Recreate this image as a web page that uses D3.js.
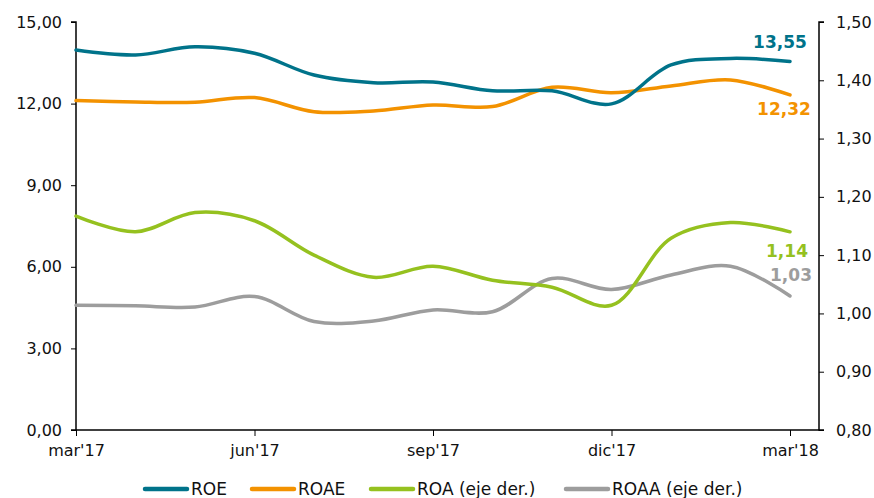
<!DOCTYPE html>
<html>
<head>
<meta charset="utf-8">
<script src="https://cdn.jsdelivr.net/npm/d3@7"></script>
<style>
  body { margin: 0; background: #fff; }
  svg text { font-family: "DejaVu Sans", Verdana, sans-serif; }
</style>
</head>
<body>
<svg id="chart" width="874" height="498"></svg>
<script>
// monthly points mar'17 .. mar'18
const months = ["mar'17", "abr'17", "may'17", "jun'17", "jul'17", "ago'17", "sep'17",
  "oct'17", "nov'17", "dic'17", "ene'18", "feb'18", "mar'18"];
const tickMonths = ["mar'17", "jun'17", "sep'17", "dic'17", "mar'18"];

const roe  = [13.97, 13.79, 14.09, 13.85, 13.05, 12.77, 12.79, 12.47, 12.47, 11.99, 13.42, 13.66, 13.55];
const roae = [12.11, 12.06, 12.05, 12.22, 11.70, 11.73, 11.95, 11.89, 12.60, 12.40, 12.65, 12.87, 12.32];
const roa  = [1.167, 1.140, 1.173, 1.159, 1.100, 1.062, 1.081, 1.057, 1.045, 1.014, 1.129, 1.156, 1.14];
const roaa = [1.014, 1.013, 1.011, 1.029, 0.986, 0.987, 1.006, 1.003, 1.060, 1.041, 1.066, 1.081, 1.03];

const leftTicks = [0, 3, 6, 9, 12, 15];
const rightTicks = [0.8, 0.9, 1.0, 1.1, 1.2, 1.3, 1.4, 1.5];

const series = [
  { name: "ROE", values: roe, axis: "left", color: "#00738A", label: "13,55", lx: 780, ly: 48 },
  { name: "ROAE", values: roae, axis: "left", color: "#F39200", label: "12,32", lx: 784, ly: 115 },
  { name: "ROA (eje der.)", values: roa, axis: "right", color: "#95C11F", label: "1,14", lx: 787, ly: 257 },
  { name: "ROAA (eje der.)", values: roaa, axis: "right", color: "#9D9D9D", label: "1,03", lx: 791, ly: 281 }
];

const fmt = v => d3.format(".2f")(v).replace(".", ",");

const svg = d3.select("#chart");
const plotLeft = 76, plotRight = 819, plotTop = 22, plotBottom = 430;

const x = d3.scaleLinear().domain([0, months.length - 1]).range([plotLeft, 790]);
const yL = d3.scaleLinear().domain([0, 15]).range([plotBottom, plotTop]);
const yR = d3.scaleLinear().domain([0.8, 1.5]).range([plotBottom, plotTop]);

// axes
const axL = svg.append("g").attr("transform", `translate(${plotLeft},0)`)
  .call(d3.axisLeft(yL).tickValues(leftTicks).tickFormat(fmt).tickSize(5).tickPadding(9));
const axR = svg.append("g").attr("transform", `translate(${plotRight},0)`)
  .call(d3.axisRight(yR).tickValues(rightTicks).tickFormat(fmt).tickSize(5).tickPadding(12));

const axB = svg.append("g").attr("transform", `translate(0,${plotBottom})`)
  .call(d3.axisBottom(x)
    .tickValues(tickMonths.map(m => months.indexOf(m)))
    .tickFormat(i => months[i])
    .tickSize(6).tickPadding(9));
axB.select(".domain").remove();
axB.append("line")
  .attr("x1", plotLeft).attr("x2", plotRight)
  .attr("stroke", "#000").attr("stroke-width", 1.5);

[axL, axR, axB].forEach(a => {
  a.selectAll("text").attr("font-size", 16).attr("fill", "#111");
  a.selectAll(".domain").attr("stroke-width", 1.5);
  a.selectAll(".tick line").attr("stroke", "#000");
});
axL.selectAll("path.domain").attr("d", `M-5,${plotTop}H0V${plotBottom}H-5`);
axR.selectAll("path.domain").attr("d", `M5,${plotTop}H0V${plotBottom}H5`);

// lines
const line = scale => d3.line()
  .x((d, i) => x(i))
  .y(d => scale(d))
  .curve(d3.curveCatmullRom.alpha(0.5));

// gray and green first so the left-axis lines sit on top
const order = [series[3], series[2], series[1], series[0]];
svg.append("g").selectAll("path")
  .data(order)
  .join("path")
  .attr("d", s => line(s.axis === "left" ? yL : yR)(s.values))
  .attr("fill", "none")
  .attr("stroke", s => s.color)
  .attr("stroke-width", 3.5)
  .attr("stroke-linecap", "round");

// end labels
svg.append("g").selectAll("text")
  .data(series)
  .join("text")
  .attr("x", s => s.lx)
  .attr("y", s => s.ly)
  .attr("text-anchor", "middle")
  .attr("font-size", 17)
  .attr("font-weight", "bold")
  .attr("fill", s => s.color)
  .text(s => s.label);

// legend
const legendX = [145, 252, 371, 566];
const lg = svg.append("g").selectAll("g")
  .data(series)
  .join("g")
  .attr("transform", (s, i) => `translate(${legendX[i]},489)`);
lg.append("line")
  .attr("x1", 0).attr("x2", 42)
  .attr("stroke", s => s.color)
  .attr("stroke-width", 4.5)
  .attr("stroke-linecap", "round");
lg.append("text")
  .attr("x", 46)
  .attr("y", 6)
  .attr("font-size", 17)
  .attr("fill", "#111")
  .text(s => s.name);
</script>
</body>
</html>
